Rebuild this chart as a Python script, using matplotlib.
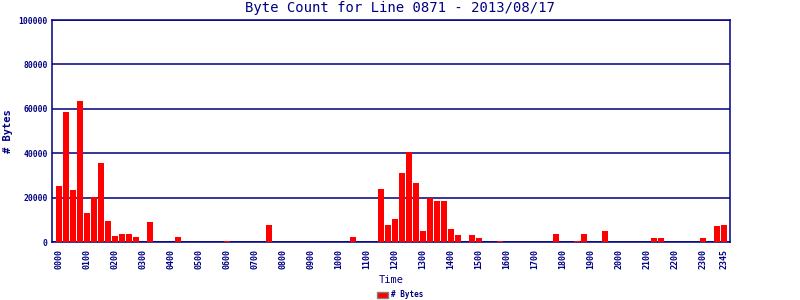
import numpy as np
import matplotlib.pyplot as plt
from matplotlib.patches import Patch

# 15-minute slots, 0000 .. 2345
times = [f"{h:02d}{m:02d}" for h in range(24) for m in (0, 15, 30, 45)]

# byte counts, slot index -> value
nonzero = {
    0: 25300, 1: 58600, 2: 23500, 3: 63500, 4: 13200, 5: 20400, 6: 35700,
    7: 9600, 8: 2850, 9: 3750, 10: 3750, 11: 2400, 13: 9150, 17: 2400,
    24: 600, 30: 7800, 42: 2400, 46: 24000, 47: 7800, 48: 10500, 49: 31200,
    50: 40600, 51: 26700, 52: 5100, 53: 19950, 54: 18600, 55: 18600,
    56: 6000, 57: 3300, 59: 3300, 60: 1950, 63: 600, 71: 3750, 74: 600,
    75: 3750, 78: 5100, 85: 1950, 86: 1950, 92: 1950, 94: 7350, 95: 7800,
}
byte_counts = [nonzero.get(i, 0) for i in range(len(times))]

tick_idx = list(range(0, 96, 4)) + [95]
tick_labels = [times[i] for i in tick_idx]
y_ticks = [0, 20000, 40000, 60000, 80000, 100000]

navy = '#000080'
mono = 'DejaVu Sans Mono'

fig = plt.figure(figsize=(8, 3), dpi=100)
ax = fig.add_axes([0.065, 0.193, 0.8475, 0.74])

x = np.arange(len(times))
ax.bar(x, byte_counts, width=0.86, color='#ff0000', zorder=3)

ax.set_xlim(-1, 95.86)
ax.set_ylim(0, 100000)
ax.set_yticks(y_ticks)
ax.set_yticklabels([str(v) for v in y_ticks], fontsize=5.8, fontweight='bold',
                   family=mono, color=navy)
ax.set_xticks(tick_idx)
ax.set_xticklabels(tick_labels, rotation=90, fontsize=6, fontweight='bold',
                   family=mono, color=navy)
ax.tick_params(axis='both', length=0, pad=3)
ax.tick_params(axis='x', pad=5)

ax.yaxis.grid(True, color=navy, linewidth=1.1, zorder=1)
ax.set_axisbelow(True)
for s in ax.spines.values():
    s.set_color(navy)
    s.set_linewidth(1.1)

fig.text(0.5, 0.973, 'Byte Count for Line 0871 - 2013/08/17', family=mono,
         fontsize=10, color=navy, ha='center', va='center')
ax.set_xlabel('Time', family=mono, fontsize=7.5, color=navy, labelpad=4)
ax.set_ylabel('# Bytes', family=mono, fontsize=7.5, fontweight='bold', color=navy)
ax.yaxis.set_label_coords(-0.058, 0.5)

handle = Patch(facecolor='#ff0000', edgecolor='#808080', label='# Bytes')
fig.legend(handles=[handle], loc='center', bbox_to_anchor=(0.5, 0.017),
           frameon=False, prop={'family': mono, 'size': 5.5, 'weight': 'bold'},
           handlelength=1.4, handleheight=0.9, handletextpad=0.4,
           labelcolor=navy, borderaxespad=0)

fig.savefig('out.png', dpi=100)
